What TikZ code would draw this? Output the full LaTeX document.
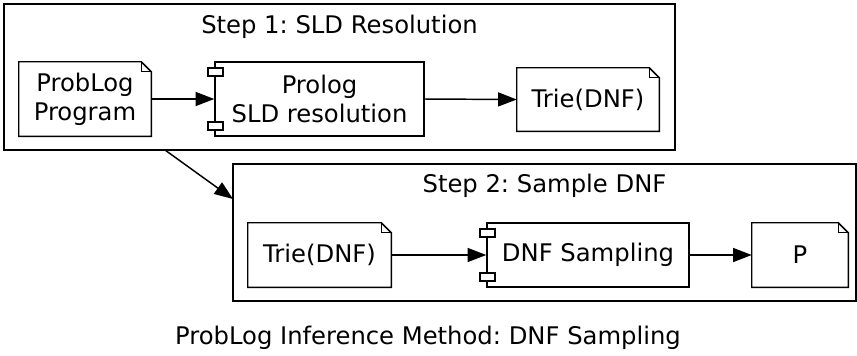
\documentclass[tikz,border=0pt]{standalone}
\usepackage{fontspec}
\setmainfont{DejaVu Sans}
\usetikzlibrary{arrows.meta}
\frenchspacing
\begin{document}
\begin{tikzpicture}[x=0.75pt,y=-0.75pt,
  font=\fontsize{18.2pt}{21.75pt}\selectfont,
  outline/.style={draw=black,line width=1.1pt},
  frame/.style={outline,inner sep=0pt},
  note/.style={inner sep=0pt,align=center},
  comp/.style={outline,fill=white,inner sep=0pt,align=center},
  tab/.style={outline,fill=white,inner sep=0pt,minimum width=11.25pt,minimum height=6pt},
  flow/.style={line width=1.1pt,-{Triangle[length=14pt,width=10.5pt]}}]
% canvas
\path[use as bounding box,fill=white] (0,0) rectangle (857,355);

% step frames and titles
\node[frame,minimum width=503.25pt,minimum height=109.5pt] (fr1) at (339.5,77) {};
\node[frame,minimum width=467.25pt,minimum height=102.75pt] (fr2) at (544.5,232.5) {};
\node[anchor=base] (t1) at (339.5,33) {Step 1: SLD Resolution};
\node[anchor=base] (t2) at (544.5,192) {Step 2: Sample DNF};

% documents (notes with a folded corner)
\node[note,minimum width=99pt,minimum height=55.5pt] (prog) at (85,99) {ProbLog\\Program};
\node[note,minimum width=106.5pt,minimum height=47.25pt] (trieA) at (588,99.5) {Trie(DNF)};
\node[note,minimum width=107.25pt,minimum height=48pt] (trieB) at (319.5,255) {Trie(DNF)};
\node[note,minimum width=72pt,minimum height=48pt] (prob) at (800,255) {P};
\foreach \n in {prog,trieA,trieB,prob}{
  \draw[outline] (\n.north west) -- ([xshift=-7.5pt]\n.north east)
    -- ([yshift=-7.5pt]\n.north east) -- (\n.south east) -- (\n.south west) -- cycle;
  \draw[outline,line width=0.8pt] ([xshift=-7.5pt]\n.north east)
    -- ([xshift=-7.5pt,yshift=-7.5pt]\n.north east) -- ([yshift=-7.5pt]\n.north east);
}

% components
\node[comp,minimum width=156.75pt,minimum height=55.5pt] (sld) at (319.5,99) {Prolog\\SLD resolution};
\node[comp,minimum width=151.5pt,minimum height=48pt] (samp) at (588,255) {DNF Sampling};
\foreach \c in {sld,samp}{
  \node[tab] at ([xshift=0.75pt,yshift=-7.9pt]\c.north west) {};
  \node[tab] at ([xshift=0.75pt,yshift=8.1pt]\c.south west) {};
}

% flows
\draw[flow] (prog.east) -- (sld.west);
\draw[flow] (sld.east) -- (trieA.west);
\draw[flow] (trieB.east) -- (samp.west);
\draw[flow] (samp.east) -- (prob.west);
\coordinate (d1) at (165,150);
\coordinate (d2) at (233,199);
\draw[flow] (d1) -- (d2);

% caption
\node[anchor=base] (cap) at (428,344) {ProbLog Inference Method: DNF Sampling};
\end{tikzpicture}
\end{document}
